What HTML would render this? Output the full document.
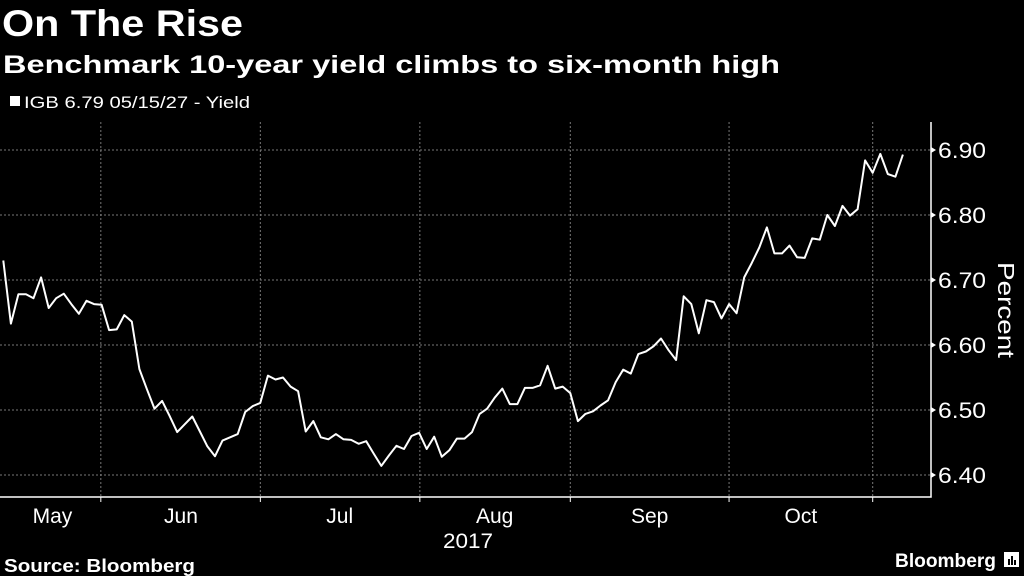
<!DOCTYPE html>
<html><head><meta charset="utf-8"><style>
html,body{margin:0;padding:0;background:#000;width:1024px;height:576px;overflow:hidden}
svg{display:block;font-family:"Liberation Sans",sans-serif}
</style></head><body>
<svg id="chart" width="1024" height="576" xmlns="http://www.w3.org/2000/svg">
<rect width="1024" height="576" fill="#000"/>
<text x="2" y="36" fill="#fff" font-size="37" font-weight="bold" textLength="241" lengthAdjust="spacingAndGlyphs">On The Rise</text>
<text x="3" y="73" fill="#fff" font-size="25" font-weight="bold" textLength="777" lengthAdjust="spacingAndGlyphs">Benchmark 10-year yield climbs to six-month high</text>
<rect x="10" y="96" width="10" height="10" fill="#fff"/>
<text x="24" y="108" fill="#fff" font-size="17" textLength="226" lengthAdjust="spacingAndGlyphs">IGB 6.79 05/15/27 - Yield</text>
<g id="grid"></g>
<g id="axes"></g>
<path id="line" fill="none" stroke="#fff" stroke-width="2" stroke-linejoin="round"/>
<text transform="translate(998,310) rotate(90)" text-anchor="middle" fill="#fff" font-size="23" textLength="96" lengthAdjust="spacingAndGlyphs">Percent</text>
<text x="468" y="548" text-anchor="middle" fill="#fff" font-size="21" textLength="50" lengthAdjust="spacingAndGlyphs">2017</text>
<text x="4" y="572" fill="#fff" font-size="18" font-weight="bold" textLength="191" lengthAdjust="spacingAndGlyphs">Source: Bloomberg</text>
<text x="895" y="567" fill="#fff" font-size="19" font-weight="bold" textLength="101" lengthAdjust="spacingAndGlyphs">Bloomberg</text>
<g><rect x="1004" y="552" width="15" height="15" fill="#fff"/><rect x="1008" y="559" width="2" height="6" fill="#000"/><rect x="1011" y="556" width="2" height="9" fill="#000"/><rect x="1014" y="560" width="2" height="5" fill="#000"/></g>
</svg>
<script>
const values = [6.730,6.633,6.678,6.678,6.672,6.704,6.657,6.672,6.679,6.663,6.648,6.668,6.663,6.662,6.623,6.624,6.646,6.636,6.563,6.532,6.502,6.514,6.491,6.466,6.478,6.490,6.467,6.444,6.429,6.453,6.458,6.463,6.497,6.506,6.511,6.553,6.547,6.550,6.536,6.529,6.467,6.483,6.458,6.455,6.463,6.455,6.454,6.448,6.452,6.433,6.414,6.430,6.445,6.440,6.460,6.465,6.440,6.459,6.428,6.438,6.456,
6.456,6.466,6.494,6.502,6.519,6.533,6.509,6.509,6.534,6.534,6.538,6.568,6.533,6.536,6.526,6.483,6.494,6.498,6.507,6.515,6.543,6.562,6.556,6.586,6.590,6.598,6.610,6.592,6.577,6.675,6.663,6.618,6.669,6.666,6.641,6.663,6.649,6.704,6.726,6.750,6.781,6.741,6.741,6.753,6.735,6.734,6.764,6.762,6.800,6.783,6.814,6.799,6.809,6.884,6.865,6.894,6.863,6.859,6.893];
const yTicks = [6.40,6.50,6.60,6.70,6.80,6.90];
const yTickLabels = ["6.40","6.50","6.60","6.70","6.80","6.90"];
const monthBoundaries = [12.9,34,55.1,75,96,115];
const monthLabels = ["May","Jun","Jul","Aug","Sep","Oct"];
const monthLabelPos = [6.5,23.5,44.5,65,85.5,105.5];

const NS="http://www.w3.org/2000/svg";
const X0=3.3, XSTEP=7.56, PLOT_L=0, PLOT_R=931, PLOT_T=122, PLOT_B=497;
function xs(i){return X0+i*XSTEP;}
function ys(v){return 475-(v-6.4)*650;}
function mk(tag,attrs,parent){const e=document.createElementNS(NS,tag);for(const k in attrs)e.setAttribute(k,attrs[k]);parent.appendChild(e);return e;}
const grid=document.getElementById('grid'), axes=document.getElementById('axes');
yTicks.forEach((t,i)=>{
  const y=ys(t);
  const g=mk('line',{x1:PLOT_L,x2:PLOT_R,y1:y,y2:y,stroke:'#777','stroke-width':1,'stroke-dasharray':'2,2'},grid);
  
  
  const tr=mk('path',{d:`M${PLOT_R} ${y-3}L${PLOT_R+5} ${y}L${PLOT_R} ${y+3}Z`,fill:'#fff'},axes);
  
  
  const tx=mk('text',{x:938,y:y+8,fill:'#fff','font-size':22,textLength:48,lengthAdjust:'spacingAndGlyphs'},axes);
  tx.textContent=yTickLabels[i];
  
  
});
monthBoundaries.forEach(b=>{
  const x=xs(b);
  const g=mk('line',{x1:x,x2:x,y1:PLOT_T,y2:PLOT_B,stroke:'#777','stroke-width':1,'stroke-dasharray':'2,2'},grid);
  
  
  const t=mk('line',{x1:x,x2:x,y1:PLOT_B,y2:PLOT_B+5,stroke:'#fff','stroke-width':1},axes);
  
  
});
monthLabels.forEach((m,i)=>{
  const tx=mk('text',{x:xs(monthLabelPos[i]),y:523,'text-anchor':'middle',fill:'#fff','font-size':21},axes);
  tx.textContent=m;
  
  
});
const ax=mk('path',{d:`M${PLOT_L} ${PLOT_B}H${PLOT_R}V${PLOT_T}`,fill:'none',stroke:'#fff','stroke-width':1.5},axes);


document.getElementById('line').setAttribute('d',values.map((v,i)=>(i?'L':'M')+xs(i).toFixed(1)+' '+ys(v).toFixed(1)).join(''));
</script>
</body></html>
